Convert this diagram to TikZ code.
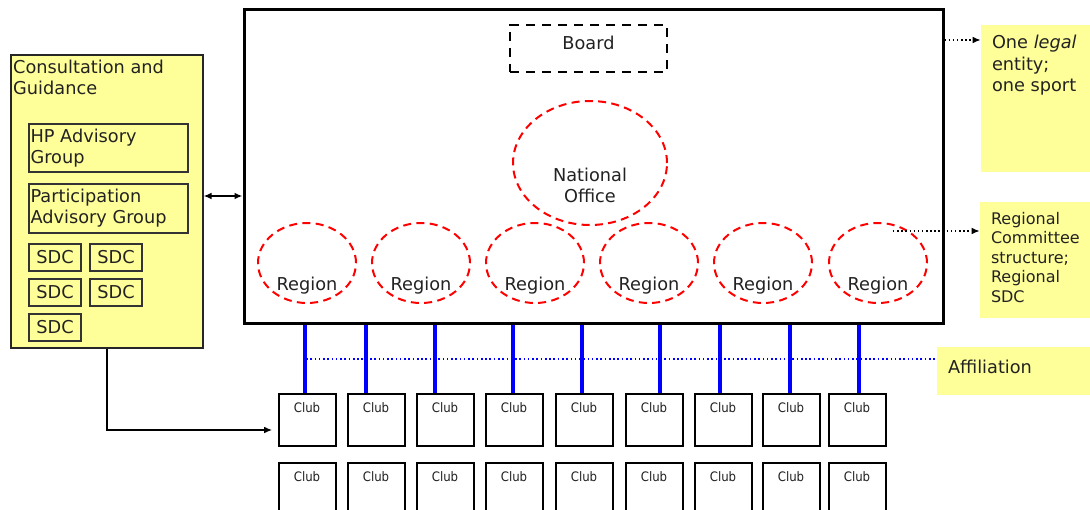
\documentclass[tikz,border=0pt]{standalone}
\usepackage{fontspec}
\setmainfont{DejaVu Sans}
\newfontfamily\clubfont{DejaVu Sans Condensed}
\usetikzlibrary{shapes.geometric,arrows.meta,calc}
\definecolor{noteyellow}{HTML}{FFFF99}
\definecolor{txt}{HTML}{222222}
\tikzset{
  mainbox/.style={draw, line width=2.25pt, inner sep=0pt, minimum width=699*0.75pt, minimum height=313*0.75pt},
  boardbox/.style={draw, line width=2.2pt, dash pattern=on 7pt off 5pt, inner sep=0pt, minimum width=157*0.75pt, minimum height=47*0.75pt},
  redell/.style={ellipse, draw=red, line width=1.5pt, dash pattern=on 6pt off 4pt, inner sep=0pt},
  regionell/.style={redell, minimum width=98*0.75pt, minimum height=80*0.75pt},
  yelbox/.style={fill=noteyellow, draw=black!85, line width=0.8pt, inner sep=0pt},
  innerbox/.style={fill=noteyellow, draw=black!80, line width=1.1pt, inner sep=0pt},
  sdcbox/.style={innerbox, minimum width=52*0.75pt, minimum height=27*0.75pt},
  notebox/.style={fill=noteyellow, inner sep=0pt},
  clubbox/.style={draw, line width=1.5pt, fill=white, inner sep=0pt, minimum width=57*0.75pt, minimum height=52*0.75pt},
  bluebar/.style={blue, line width=3pt},
  dotarrow/.style={dotted, line width=1.1pt, -{Latex[length=6pt,width=5pt]}},
  clublabel/.style={anchor=north, inner sep=0pt, yshift=-9*0.75pt, font=\clubfont\fontsize{9.8}{11}\selectfont},
}
\begin{document}
\begin{tikzpicture}[x=0.75pt,y=-0.75pt, font=\fontsize{13.3}{15.8}\selectfont, text=txt]
\useasboundingbox (0,0) rectangle (1090,510);
\clip (0,0) rectangle (1090,510);

% main structure
\node[mainbox] (main) at (593.5,166.5) {};
\node[boardbox, label={[yshift=4.5pt]center:Board}] (board) at (588.5,48.5) {};
\node[redell, minimum width=154*0.75pt, minimum height=124*0.75pt,
      label={[yshift=-16.5pt, align=center]center:National\\Office}] (natoff) at (590,163) {};
\foreach \i/\x in {1/307,2/421,3/535,4/649,5/763,6/878}{
  \node[regionell, label={[yshift=-17pt]center:Region}] (reg\i) at (\x,263) {};
}

% left consultation box
\node[yelbox, minimum width=192*0.75pt, minimum height=293*0.75pt,
      label={[anchor=north west, align=left, inner sep=0pt, xshift=2.5*0.75pt, yshift=-5*0.75pt]north west:Consultation and\\Guidance}] (lg) at (107,201.5) {};
\node[innerbox, minimum width=159*0.75pt, minimum height=48*0.75pt,
      label={[anchor=north west, align=left, inner sep=0pt, xshift=2*0.75pt, yshift=-5*0.75pt]north west:HP Advisory\\Group}] (hp) at (108.5,148) {};
\node[innerbox, minimum width=159*0.75pt, minimum height=49*0.75pt,
      label={[anchor=north west, align=left, inner sep=0pt, xshift=2*0.75pt, yshift=-5.5*0.75pt]north west:Participation\\Advisory Group}] (part) at (108.5,208.5) {};
\node[sdcbox] (sdc1) at (55,257.5) {SDC};
\node[sdcbox] (sdc2) at (116,257.5) {SDC};
\node[sdcbox] (sdc3) at (55,292.5) {SDC};
\node[sdcbox] (sdc4) at (116,292.5) {SDC};
\node[sdcbox] (sdc5) at (55,327.5) {SDC};

\coordinate (dbl) at (0,196);
\draw[line width=1.2pt, {Latex[length=6pt,width=5pt]}-{Latex[length=6pt,width=5pt]}] (lg.east |- dbl) -- (main.west |- dbl);

% right notes
\node[notebox, minimum width=110*0.75pt, minimum height=147*0.75pt,
      label={[anchor=north west, align=left, inner sep=0pt, xshift=11*0.75pt, yshift=-10*0.75pt, font=\fontsize{13.3}{16.2}\selectfont]north west:One \textit{legal}\\entity;\\one sport}] (legal) at (1036,98.5) {};
\node[notebox, minimum width=110*0.75pt, minimum height=116*0.75pt,
      label={[anchor=north west, align=left, inner sep=0pt, xshift=11*0.75pt, yshift=-10*0.75pt, font=\fontsize{12}{14.6}\selectfont]north west:Regional\\Committee\\structure;\\Regional\\SDC}] (regnote) at (1035,260) {};
\node[notebox, minimum width=153*0.75pt, minimum height=48*0.75pt,
      label={[anchor=west, inner sep=0pt, xshift=11*0.75pt, yshift=4*0.75pt]west:Affiliation}] (aff) at (1013.5,371) {};

\coordinate (la) at (0,40);
\draw[dotarrow] (main.east |- la) -- (legal.west |- la);
\coordinate (ra) at (893,231);
\draw[dotarrow] (ra) -- (regnote.west |- ra);

% clubs
\foreach \i/\x in {1/307,2/376,3/445,4/514,5/584,6/654,7/723,8/791,9/857}{
  \node[clubbox, label={[clublabel]north:Club}] (ca\i) at (\x,420) {};
  \node[clubbox, label={[clublabel]north:Club}] (cb\i) at (\x,489) {};
}

% affiliation dotted line
\coordinate (afl) at (306,359);
\draw[blue, dotted, line width=1.2pt] (afl) -- (aff.west |- afl);

% blue bars
\foreach \i/\x in {1/305,2/366,3/435,4/513,5/582,6/660,7/720,8/790,9/859}{
  \coordinate (bx\i) at (\x,0);
  \draw[bluebar] (main.south -| bx\i) -- (ca\i.north -| bx\i);
}

% consultation to clubs
\coordinate (cl) at (0,430);
\draw[line width=1.1pt, -{Latex[length=6pt,width=5pt]}, shorten >=4pt] (lg.south) |- (ca1.west |- cl);
\end{tikzpicture}
\end{document}
